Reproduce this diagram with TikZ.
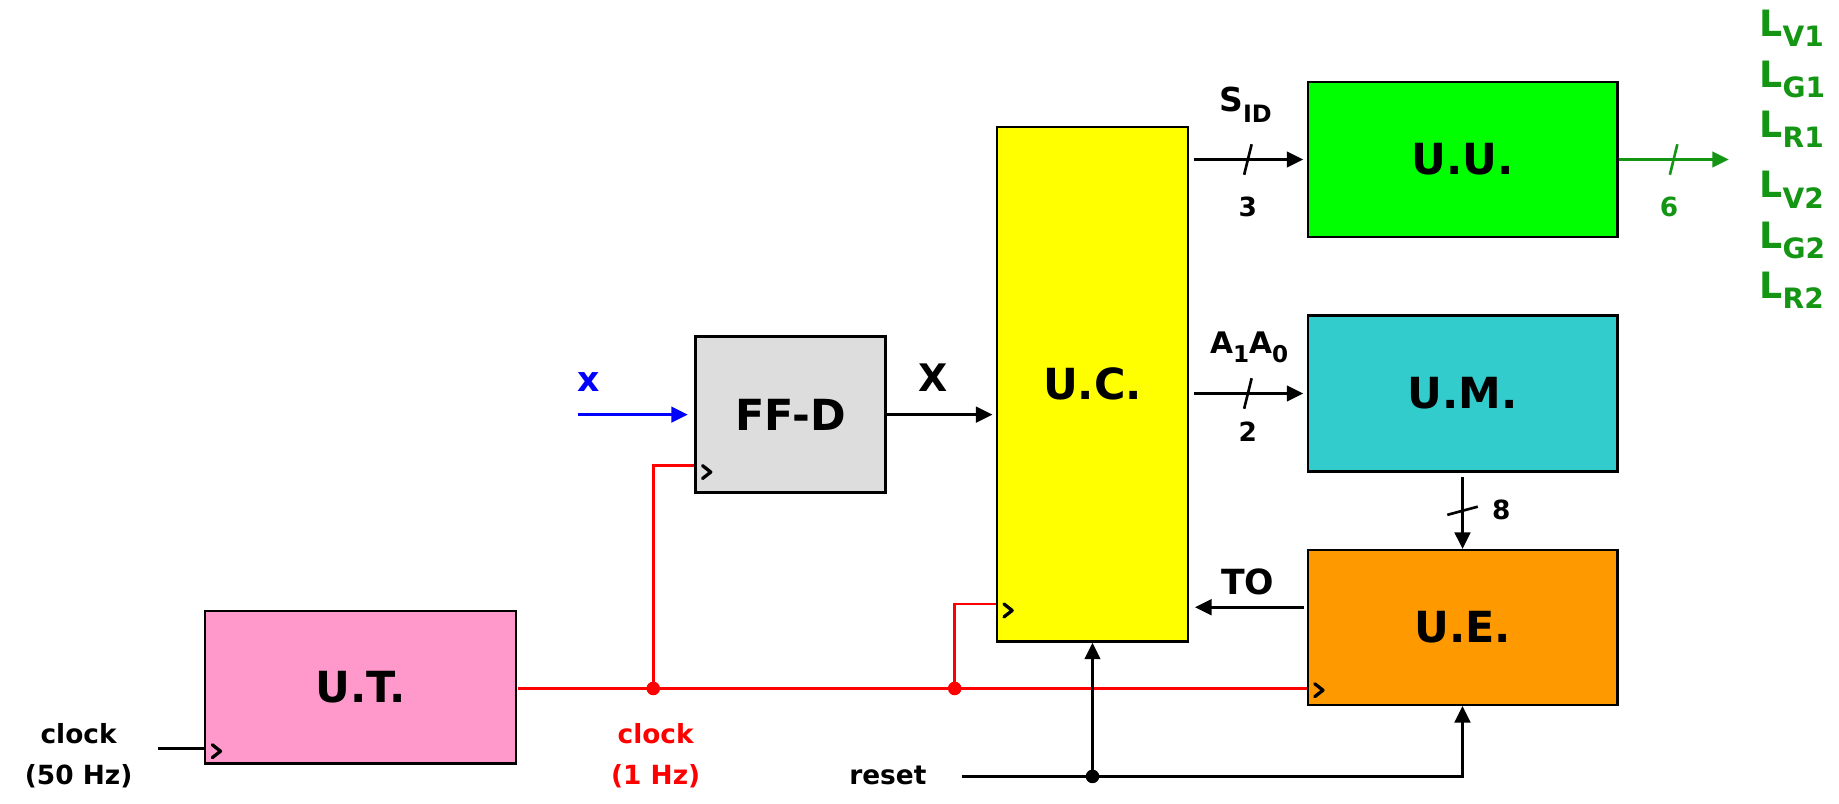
\documentclass[tikz,border=0pt]{standalone}
\usepackage{fontspec}
\setmainfont{DejaVu Sans}
\usetikzlibrary{arrows.meta,fit,calc}
\definecolor{utpink}{RGB}{255,153,204}
\definecolor{ffgray}{RGB}{221,221,221}
\definecolor{ucyellow}{RGB}{255,255,0}
\definecolor{uugreen}{RGB}{0,255,0}
\definecolor{umteal}{RGB}{51,204,204}
\definecolor{ueorange}{RGB}{255,153,0}
\definecolor{lgreen}{RGB}{20,150,20}
\newcommand{\fs}[1]{\fontsize{#1}{#1}\selectfont}
\newcommand{\lowsub}[3]{\raisebox{-#1pt}{\fs{#2}#3}}
\begin{document}
\begin{tikzpicture}[x=0.025cm,y=-0.025cm,
  box/.style={draw=black, line width=1.4pt, inner sep=0pt},
  boxlbl/.style={inner sep=0pt, font=\bfseries\fs{26}},
  wire/.style={line width=1.6pt},
  arr/.style={line width=1.6pt, -{Triangle[length=10pt,width=9.5pt]}},
  lbl/.style={inner sep=0pt, anchor=base, font=\bfseries\fs{#1}},
  lbl/.default=16,
  jdot/.style={circle, fill, inner sep=0pt, minimum size=0.29cm},
  chev/.style={line width=2pt, line cap=round, line join=round}
]
\useasboundingbox (0,0) rectangle (1568,685);

% blocks
\node[box, fill=utpink,   fit={(175,521) (440,651)}] (ut)  {};
\node[box, fill=ffgray,   fit={(593,287) (755,420)}] (ffd) {};
\node[box, fill=ucyellow, fit={(850,108) (1013,547)}] (uc) {};
\node[box, fill=uugreen,  fit={(1115,70) (1379,202)}] (uu) {};
\node[box, fill=umteal,   fit={(1115,269) (1379,402)}] (um) {};
\node[box, fill=ueorange, fit={(1115,469) (1379,601)}] (ue) {};
\node[boxlbl] (utl)  at (ut.center)  {U.T.};
\node[boxlbl] (ffdl) at (ffd.center) {FF-D};
\node[boxlbl] (ucl)  at (uc.center)  {U.C.};
\node[boxlbl] (uul)  at (uu.center)  {U.U.};
\node[boxlbl] (uml)  at (um.center)  {U.M.};
\node[boxlbl] (uel)  at (ue.center)  {U.E.};

% x input to FF-D
\coordinate (xin) at (493,353.5);
\draw[arr, blue, shorten >=4pt] (xin) -- (xin -| ffd.west);
\node[lbl=21, blue] (xl) at (502,334) {x};

% X: FF-D -> U.C.
\draw[arr, shorten >=2pt] (ffd.east) -- (ffd.east -| uc.west);
\node[lbl=23] (Xl) at (796,334) {X};

% S_ID bus
\draw[arr, shorten <=2.8pt, shorten >=2pt] (uu.west -| uc.east) -- (uu.west);
\coordinate (t1) at ($(uu.west -| uc.east)!0.5!(uu.west)$);
\draw[wire] ($(t1)+(3.2,-13)$) -- ($(t1)+(-3.2,13)$);
\node[lbl=20] (sid) at (1062,95) {S\lowsub{6.7}{14.5}{ID}};
\node[lbl] (n3) at (1064,185) {3};

% A1A0 bus
\draw[arr, shorten <=2.8pt, shorten >=2pt] (um.west -| uc.east) -- (um.west);
\coordinate (t2) at ($(um.west -| uc.east)!0.5!(um.west)$);
\draw[wire] ($(t2)+(3.2,-13)$) -- ($(t2)+(-3.2,13)$);
\node[lbl=18] (a10) at (1065,301) {A\lowsub{6}{14}{1}A\lowsub{6}{14}{0}};
\node[lbl] (n2) at (1064,376.6) {2};

% U.U. outputs
\draw[arr, lgreen] (uu.east) -- ++(94,0) coordinate (uuout);
\coordinate (t3) at ($(uu.east)!0.5!(uuout)$);
\draw[wire, lgreen] ($(t3)+(3.2,-13)$) -- ($(t3)+(-3.2,13)$);
\node[lbl, lgreen] (n6) at (1423,184.7) {6};
\begin{scope}[every node/.style={inner sep=0pt, anchor=base west, text=lgreen, font=\bfseries\fs{22}}]
\node (lv1) at (1500,30.7)  {L\lowsub{6.4}{17}{V1}};
\node (lg1) at (1500,74.5)  {L\lowsub{6.4}{17}{G1}};
\node (lr1) at (1500,117)   {L\lowsub{6.4}{17}{R1}};
\node (lv2) at (1500,168.5) {L\lowsub{6.4}{17}{V2}};
\node (lg2) at (1500,211.7) {L\lowsub{6.4}{17}{G2}};
\node (lr2) at (1500,254.4) {L\lowsub{6.4}{17}{R2}};
\end{scope}

% U.M. -> U.E.
\draw[arr, shorten <=2.5pt] (um.south) -- (ue.north);
\coordinate (t4) at ($(um.south)!0.5!(ue.north)$);
\draw[wire] ($(t4)+(-13,3.5)$) -- ($(t4)+(13,-3.5)$);
\node[lbl] (n8) at (1280,443) {8};

% TO: U.E. -> U.C.
\coordinate (tos) at ($(ue.north west)!0.371!(ue.south west)$);
\draw[arr, shorten <=1.7pt, shorten >=3.5pt] (tos) -- (tos -| uc.east);
\node[lbl=21] (tol) at (1064,507) {TO};

% clock net (red)
\coordinate (clk) at (442,587);
\draw[wire, red] (clk) -- (clk -| ue.west);
\node[jdot, red] (j1) at (557,587) {};
\node[jdot, red] (j2) at (814,587) {};
\draw[wire, red] (j1.center) -- (j1.center |- 0,397) -- (ffd.west |- 0,397);
\draw[wire, red] (j2.center) -- (j2.center |- 0,515) -- (uc.west |- 0,515);
\node[lbl, red] (c1) at (559,634) {clock};
\node[lbl, red] (c1b) at (559,669) {(1 Hz)};

% clock 50 Hz input
\coordinate (cin) at (135,638);
\draw[wire] (cin) -- (cin -| ut.west);
\node[lbl] (c50) at (67,634) {clock};
\node[lbl] (c50b) at (67,669) {(50 Hz)};

% clock chevrons
\draw[chev] ($(ffd.west |- 0,397)+(7,0)$) -- ++(7,5.5) -- ++(-7,5.5);
\draw[chev] ($(uc.west |- 0,515)+(7,0)$) -- ++(7,5.5) -- ++(-7,5.5);
\draw[chev] ($(ue.west |- clk)+(7,-4)$) -- ++(7,5.5) -- ++(-7,5.5);
\draw[chev] ($(ut.west |- cin)+(7,-3)$) -- ++(7,5.5) -- ++(-7,5.5);

% reset
\coordinate (rst) at (820,662);
\node[jdot] (j3) at (uc.south |- rst) {};
\draw[arr] (rst) -- (rst -| ue.south) -- (ue.south);
\draw[arr] (j3.center) -- (uc.south);
\node[lbl] (rl) at (757,669) {reset};
\end{tikzpicture}
\end{document}
